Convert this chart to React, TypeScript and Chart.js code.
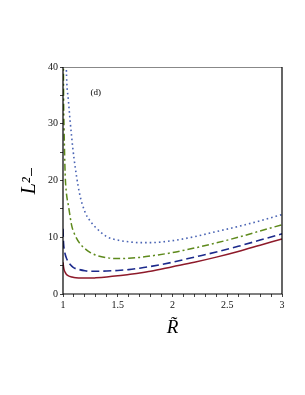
import React, { useEffect, useRef } from "react";
import { Chart, registerables } from "chart.js";
Chart.register(...registerables);

const xValues = [1, 1.005, 1.01, 1.02, 1.03, 1.05, 1.08, 1.1, 1.15, 1.2, 1.25, 1.3, 1.4, 1.5, 1.6, 1.7, 1.8, 2.0, 2.2, 2.4, 2.6, 2.8, 3.0];
const solidRed = [5.6, 4.8, 4.3, 3.8, 3.5, 3.2, 3.0, 2.9, 2.82, 2.8, 2.8, 2.85, 3.0, 3.2, 3.45, 3.7, 4.0, 4.8, 5.6, 6.5, 7.5, 8.6, 9.7];
const dashedNavy = [11.5, 9.0, 8.0, 7.0, 6.4, 5.6, 4.9, 4.6, 4.3, 4.1, 4.0, 4.0, 4.05, 4.15, 4.3, 4.55, 4.85, 5.6, 6.5, 7.4, 8.4, 9.5, 10.6];
const dashDotGreen = [60, 36, 29, 21, 18, 15.5, 12, 10.8, 9.0, 8.0, 7.3, 6.85, 6.4, 6.25, 6.3, 6.45, 6.7, 7.3, 8.1, 9.0, 10.0, 11.1, 12.2];
const dottedBlue = [200, 120, 80, 52, 40, 34, 27.5, 24, 17.8, 14.5, 12.8, 11.7, 10.1, 9.5, 9.2, 9.05, 9.05, 9.4, 10.1, 11.0, 11.9, 12.9, 14.0];

const xMajorTicks = [1, 1.5, 2, 2.5, 3];
const yMajorTicks = [0, 10, 20, 30, 40];
const panelLabel = "(d)";
const xTitle = "R\u0303";
const yTitle = "L\u00B2\u208B";

const SERIF = "'Liberation Serif', 'DejaVu Serif', serif";

const toPoints = (ys: number[]) => xValues.map((x, i) => ({ x, y: ys[i] }));

const framePlugin = {
  id: "frame",
  afterDraw(chart: any) {
    const { ctx, chartArea: a, scales } = chart;
    ctx.save();
    ctx.lineWidth = 1;
    ctx.strokeStyle = "#888";
    ctx.beginPath();
    ctx.moveTo(a.left, a.top + 0.5);
    ctx.lineTo(a.right, a.top + 0.5);
    ctx.stroke();
    ctx.strokeStyle = "#000";
    ctx.lineWidth = 1.2;
    ctx.beginPath();
    ctx.moveTo(a.right, a.top);
    ctx.lineTo(a.right, a.bottom);
    ctx.lineTo(a.left, a.bottom);
    ctx.lineTo(a.left, a.top);
    ctx.stroke();
    ctx.fillStyle = "#000";
    ctx.font = "9px " + SERIF;
    ctx.textAlign = "center";
    ctx.textBaseline = "middle";
    ctx.fillText(panelLabel, scales.x.getPixelForValue(1.3), scales.y.getPixelForValue(35.5));
    ctx.restore();
  },
};

export default function App() {
  const ref = useRef<HTMLCanvasElement>(null);
  useEffect(() => {
    document.body.style.margin = "0";
    const mk = (label: string, ys: number[], color: string, dash: number[], width: number) => ({
      label,
      data: toPoints(ys),
      borderColor: color,
      backgroundColor: color,
      borderWidth: width,
      borderDash: dash,
      pointRadius: 0,
      fill: false,
      cubicInterpolationMode: "monotone" as const,
    });
    const chart = new Chart(ref.current!, {
      type: "line",
      data: {
        datasets: [
          mk("dotted", dottedBlue, "#4a64b4", [1.6, 3], 1.6),
          mk("dashdot", dashDotGreen, "#5e8a1c", [7, 3, 2, 3], 1.5),
          mk("dashed", dashedNavy, "#1c2a8c", [8, 4], 1.6),
          mk("solid", solidRed, "#8e1a2a", [], 1.5),
        ],
      },
      options: {
        animation: false,
        responsive: false,
        maintainAspectRatio: false,
        layout: { padding: { left: 18, right: 23, top: 67, bottom: 54 } },
        plugins: { legend: { display: false }, tooltip: { enabled: false } },
        scales: {
          x: {
            type: "linear",
            min: 1,
            max: 3,
            afterBuildTicks: (s: any) => {
              const t = [];
              for (let i = 0; i <= 20; i++) t.push({ value: Math.round((1 + i * 0.1) * 10) / 10 });
              s.ticks = t;
            },
            afterFit: (s: any) => {
              s.height = 47;
            },
            ticks: {
              autoSkip: false,
              maxRotation: 0,
              padding: 2,
              color: "#111",
              font: { family: SERIF, size: 10 },
              callback: (v: any) => (xMajorTicks.some((m) => Math.abs(m - v) < 1e-6) ? String(v) : ""),
            },
            grid: { drawOnChartArea: false, tickLength: 3, color: "#444" },
            border: { display: false },
            title: {
              display: true,
              text: xTitle,
              color: "#000",
              font: { family: SERIF, size: 19, style: "italic" },
              padding: { top: 0, bottom: 2 },
            },
          },
          y: {
            type: "linear",
            min: 0,
            max: 40,
            afterBuildTicks: (s: any) => {
              const t = [];
              for (let i = 0; i <= 8; i++) t.push({ value: i * 5 });
              s.ticks = t;
            },
            afterFit: (s: any) => {
              s.width = 45;
            },
            ticks: {
              autoSkip: false,
              padding: 2,
              color: "#111",
              font: { family: SERIF, size: 10 },
              callback: (v: any) => (yMajorTicks.includes(v) ? String(v) : ""),
            },
            grid: { drawOnChartArea: false, tickLength: 3, color: "#444" },
            border: { display: false },
            title: {
              display: true,
              text: yTitle,
              color: "#000",
              font: { family: SERIF, size: 20, style: "italic" },
              padding: { top: 0, bottom: 0 },
            },
          },
        },
      },
      plugins: [framePlugin],
    });
    return () => chart.destroy();
  }, []);
  return <canvas ref={ref} width={305} height={395} style={{ display: "block" }} />;
}
